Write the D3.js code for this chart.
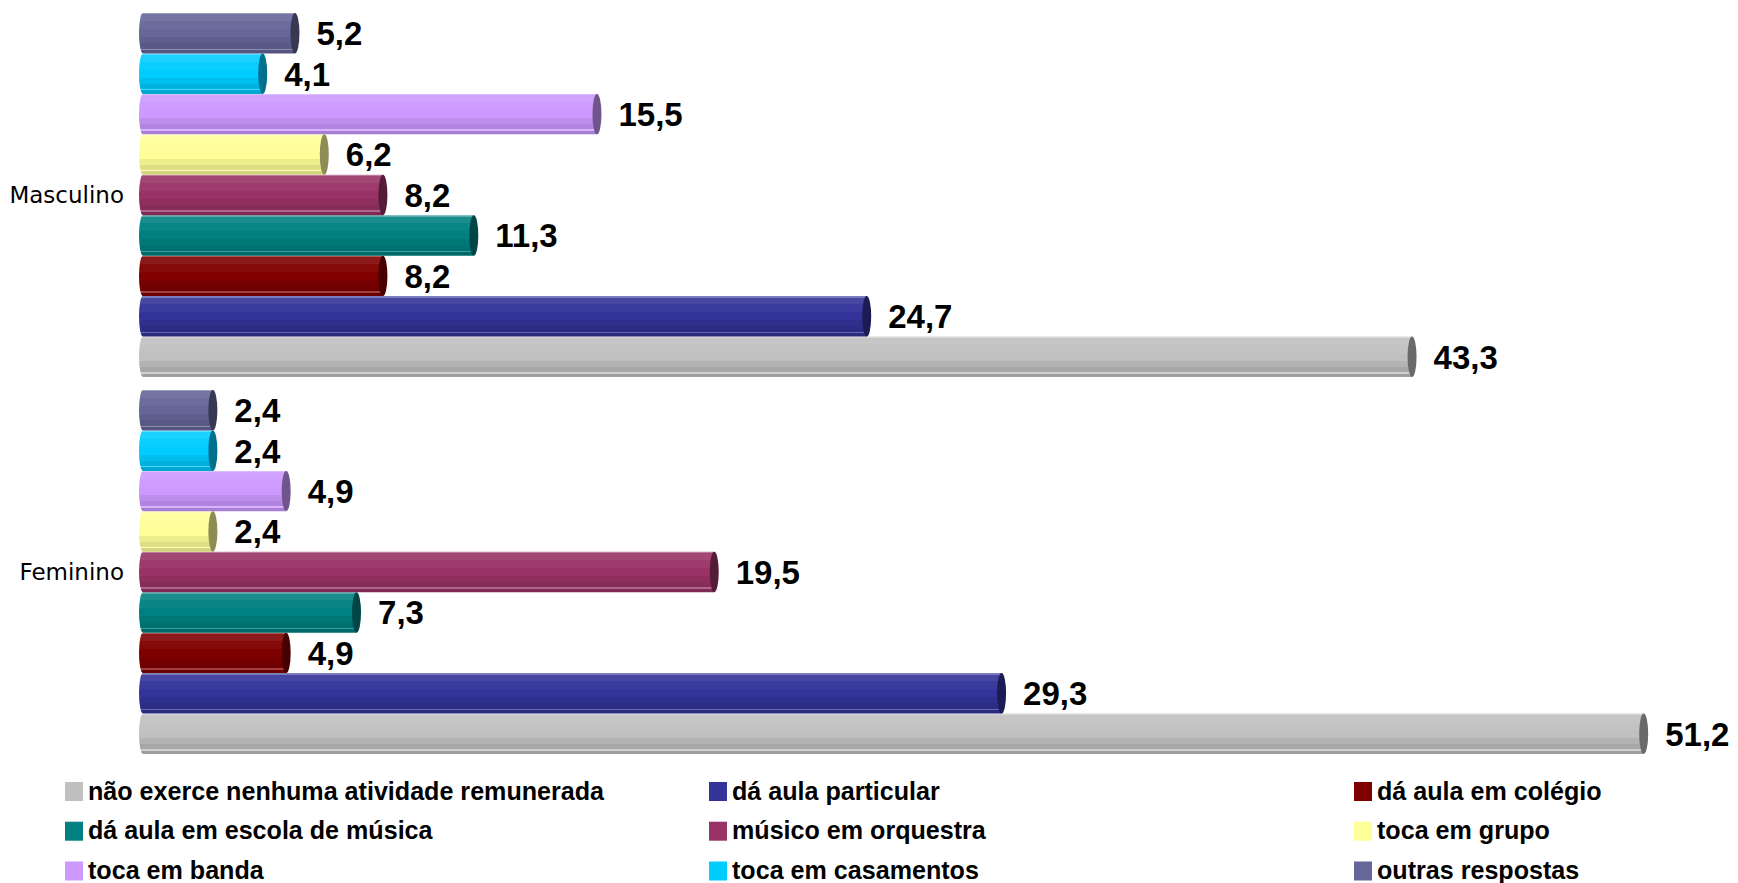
<!DOCTYPE html>
<html>
<head>
<meta charset="utf-8">
<script src="https://cdn.jsdelivr.net/npm/d3@7"></script>
<style>
  html, body { margin: 0; padding: 0; background: #ffffff; }
  svg { display: block; }
</style>
</head>
<body>
<div id="chart"></div>
<script>
// ---- data ----
const categories = ["Masculino", "Feminino"];
const seriesNames = [
  "não exerce nenhuma atividade remunerada",
  "dá aula particular",
  "dá aula em colégio",
  "dá aula em escola de música",
  "músico em orquestra",
  "toca em grupo",
  "toca em banda",
  "toca em casamentos",
  "outras respostas"
];
const masculinoValues = [43.3, 24.7, 8.2, 11.3, 8.2, 6.2, 15.5, 4.1, 5.2];
const femininoValues  = [51.2, 29.3, 4.9, 7.3, 19.5, 2.4, 4.9, 2.4, 2.4];
const seriesColors = ["#C0C0C0", "#333399", "#800000", "#008080", "#993366", "#FFFF99", "#CC99FF", "#00CCFF", "#666699"];

const valuesByCategory = { "Masculino": masculinoValues, "Feminino": femininoValues };

// ---- layout ----
const W = 1738, H = 883;
const svg = d3.select("#chart").append("svg").attr("width", W).attr("height", H);
const defs = svg.append("defs");

const x = d3.scaleLinear().domain([0, 55]).range([147, 147 + 55 * 29.32]);
const y0 = d3.scaleBand().domain(categories).range([0, 767]).paddingInner(0.0345).paddingOuter(0.0345);
const y1 = d3.scaleBand().domain(seriesNames.slice().reverse()).range([0, y0.bandwidth()]).padding(0);

const fmt = v => d3.format(".1f")(v).replace(".", ",");
const light = (c, t) => d3.interpolateRgb(c, "#ffffff")(t);
const dark = (c, t) => d3.interpolateRgb(c, "#000000")(t);

// gradients emulating faceted cylinders
const facets = [
  [0.00, 0.035, c => light(c, 0.35)],
  [0.035, 0.20, c => light(c, 0.10)],
  [0.20, 0.40, c => light(c, 0.04)],
  [0.40, 0.60, c => c],
  [0.60, 0.75, c => dark(c, 0.07)],
  [0.75, 0.88, c => dark(c, 0.13)],
  [0.88, 0.915, c => light(c, 0.25)],
  [0.915, 1.00, c => dark(c, 0.17)]
];
seriesNames.forEach((s, i) => {
  const g = defs.append("linearGradient").attr("id", "grad" + i)
    .attr("x1", 0).attr("y1", 0).attr("x2", 0).attr("y2", 1);
  facets.forEach(([a, b, f]) => {
    g.append("stop").attr("offset", a).attr("stop-color", f(seriesColors[i]));
    g.append("stop").attr("offset", b).attr("stop-color", f(seriesColors[i]));
  });
});

const capRx = 4.5, leftRx = 4, startPad = 8;

const rows = [];
categories.forEach(cat => {
  seriesNames.forEach((s, i) => {
    rows.push({ cat, s, i, v: valuesByCategory[cat][i] });
  });
});

const bars = svg.append("g").selectAll("g.bar").data(rows).join("g").attr("class", "bar");

bars.append("path")
  .attr("d", d => {
    const top = y0(d.cat) + y1(d.s);
    const h = y1.bandwidth();
    const bot = top + h;
    const xl = x(0) - startPad;
    const xr = x(d.v) - capRx;
    return `M${xl + leftRx},${top} L${xr},${top} L${xr},${bot} L${xl + leftRx},${bot} A${leftRx},${h / 2} 0 0 1 ${xl + leftRx},${top} Z`;
  })
  .attr("fill", d => `url(#grad${d.i})`);

bars.append("ellipse")
  .attr("cx", d => x(d.v) - capRx)
  .attr("cy", d => y0(d.cat) + y1(d.s) + y1.bandwidth() / 2)
  .attr("rx", capRx)
  .attr("ry", y1.bandwidth() / 2)
  .attr("fill", d => dark(seriesColors[d.i], 0.45));

bars.append("text")
  .attr("x", d => x(d.v) + 17)
  .attr("y", d => y0(d.cat) + y1(d.s) + y1.bandwidth() / 2)
  .attr("dy", "0.36em")
  .attr("font-family", "'Liberation Sans', Arial, sans-serif")
  .attr("font-weight", "bold")
  .attr("font-size", 33)
  .attr("fill", "#000")
  .text(d => fmt(d.v));

// category labels
svg.append("g").selectAll("text").data(categories).join("text")
  .attr("x", 124)
  .attr("y", d => y0(d) + y0.bandwidth() / 2)
  .attr("dy", "0.36em")
  .attr("text-anchor", "end")
  .attr("font-family", "'DejaVu Sans', Verdana, sans-serif")
  .attr("font-size", 23)
  .attr("fill", "#000")
  .text(d => d);

// legend
const legendCols = [65, 709, 1354];
const legendRows = [791.5, 831.2, 871];
const legend = svg.append("g").selectAll("g").data(seriesNames).join("g")
  .attr("transform", (d, i) => `translate(${legendCols[i % 3]},${legendRows[Math.floor(i / 3)]})`);
legend.append("rect")
  .attr("x", 0).attr("y", -9.5).attr("width", 18).attr("height", 19)
  .attr("fill", (d, i) => seriesColors[i]);
legend.append("text")
  .attr("x", 23).attr("y", 0).attr("dy", "0.33em")
  .attr("font-family", "'Liberation Sans', Arial, sans-serif")
  .attr("font-weight", "bold")
  .attr("font-size", 25.1)
  .attr("fill", "#000")
  .text(d => d);
</script>
</body>
</html>
